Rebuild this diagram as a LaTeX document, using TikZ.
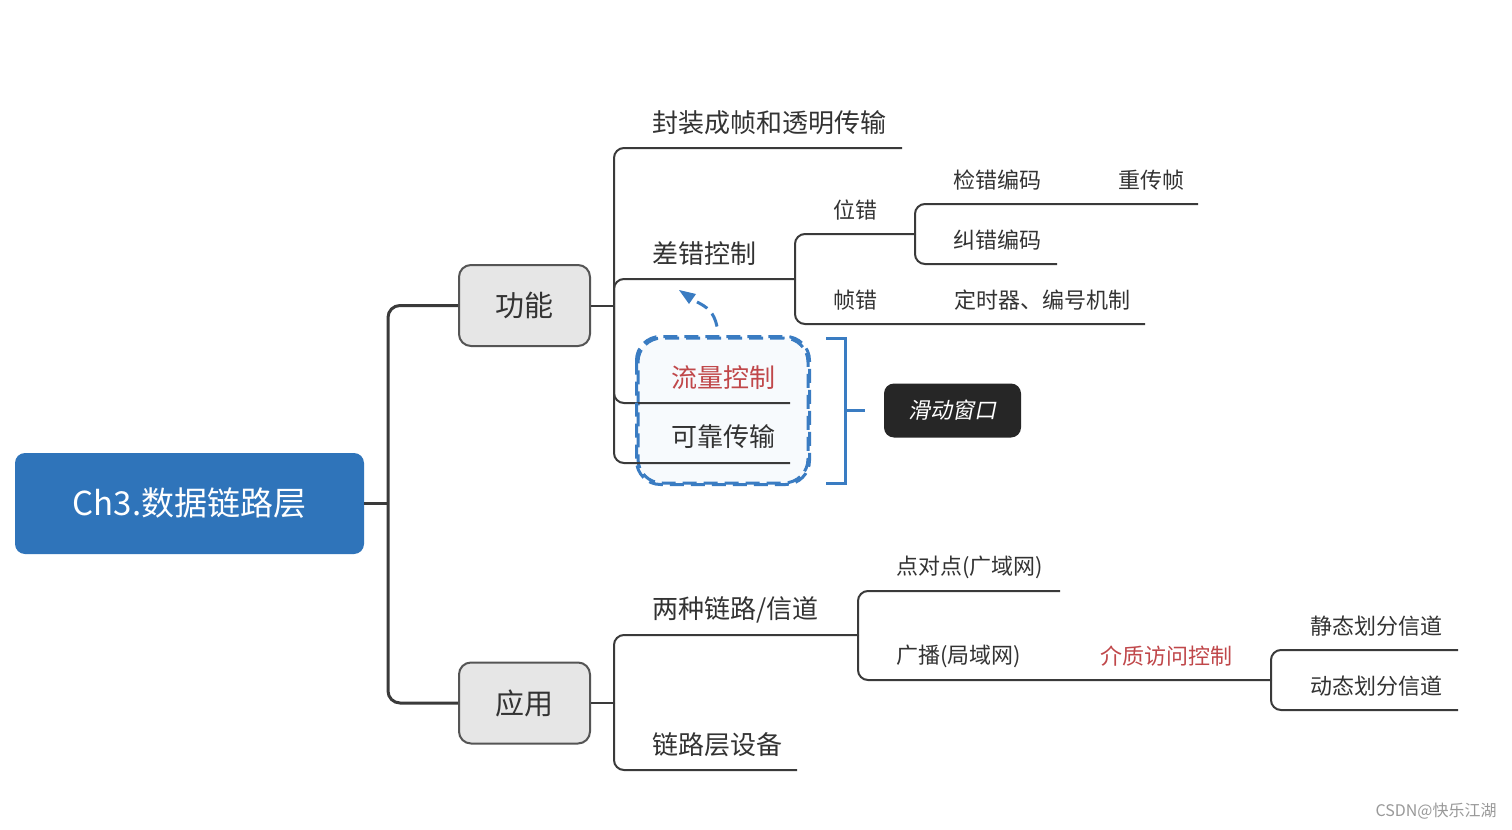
\documentclass[tikz,border=0pt]{standalone}
\usepackage{fontspec}
\setmainfont{Noto Sans CJK SC}
\newfontfamily\cjkit{Noto Sans CJK SC}[FakeSlant=0.2]
\usetikzlibrary{arrows.meta,calc}
\definecolor{rootblue}{HTML}{2F74BA}
\definecolor{boxgray}{HTML}{E6E6E6}
\definecolor{boxline}{HTML}{555555}
\definecolor{linecol}{HTML}{3A3A3A}
\definecolor{txt}{HTML}{333333}
\definecolor{redtxt}{HTML}{C0474A}
\definecolor{dashblue}{HTML}{3A7CC2}
\definecolor{darknode}{HTML}{262626}
\tikzset{
  rootbox/.style={draw=none,fill=rootblue,rounded corners=5pt,minimum width=174.5pt,minimum height=50.5pt,text=white,font=\fontsize{16.5pt}{20pt}\selectfont,inner sep=0pt},
  grpbox/.style={draw=boxline,line width=1pt,fill=boxgray,rounded corners=6pt,minimum width=65.5pt,minimum height=40.5pt,text=txt,font=\fontsize{14.5pt}{17pt}\selectfont,inner sep=0pt},
  mainline/.style={draw=linecol,line width=1.5pt,rounded corners=6pt},
  brline/.style={draw=linecol,line width=1pt,rounded corners=5pt},
  big/.style={text=txt,font=\fontsize{13pt}{15pt}\selectfont,inner sep=0pt},
  small/.style={text=txt,font=\fontsize{11pt}{13pt}\selectfont,inner sep=0pt},
  redbig/.style={big,text=redtxt},
  redsmall/.style={small,text=redtxt},
  bluedash/.style={draw=dashblue,line width=1.5pt,dash pattern=on 7pt off 3.5pt},
  dashbox/.style={bluedash,rounded corners=12pt,fill=dashblue!4,minimum width=85pt,minimum height=72.5pt},
  bracketline/.style={draw=dashblue,line width=1.5pt},
  darkbox/.style={fill=darknode,rounded corners=5pt,minimum width=68.5pt,minimum height=27pt,text=white,font=\fontsize{11pt}{13pt}\cjkit,inner sep=0pt},
}
\begin{document}
\begin{tikzpicture}[x=0.5pt,y=-0.5pt]
\useasboundingbox (0,0) rectangle (1512,830);
\fill[white] (0,0) rectangle (1512,830);

% dashed group box (fill first, lines pass over it)
\node[dashbox] (win) at (723,410.5) {};

% main nodes
\node[rootbox] (root) at (189.5,503.5) {Ch3.数据链路层};
\node[grpbox] (gn) at (524.5,305.5) {功能};
\node[grpbox] (yy) at (524.5,703) {应用};

% junction coordinates
\coordinate (rj) at (388,503.5);
\coordinate (gj) at (614,305.5);
\coordinate (yj) at (614,703);
\coordinate (ej) at (795,279);
\coordinate (bj) at (915,234);
\coordinate (tj) at (858,635);
\coordinate (mj) at (1271,680);
% line ends
\coordinate (e1) at (902,148);
\coordinate (e3) at (790,403);
\coordinate (e4) at (790,463);
\coordinate (e5) at (1145,324);
\coordinate (e6) at (1198,204);
\coordinate (e7) at (1057,264);
\coordinate (e8) at (797,770);
\coordinate (e9) at (1060,591);
\coordinate (e10) at (1458,650);
\coordinate (e11) at (1458,710);

% root connectors
\draw[mainline] (root.east) -- (rj);
\draw[mainline] (gn.west) -| (rj) |- (yy.west);

% 功能 branches
\draw[brline] (gn.east) -- (gj);
\draw[brline] (gj) |- (e1);
\draw[brline] (gj) |- (ej);
\draw[brline] (gj) |- (e3);
\draw[brline] (gj) |- (e4);
\draw[brline] (ej) |- (bj);
\draw[brline] (ej) |- (e5);
\draw[brline] (bj) |- (e6);
\draw[brline] (bj) |- (e7);

% 应用 branches
\draw[brline] (yy.east) -- (yj);
\draw[brline] (yj) |- (tj);
\draw[brline] (yj) |- (e8);
\draw[brline] (tj) |- (e9);
\draw[brline] (tj) |- (mj);
\draw[brline] (mj) |- (e10);
\draw[brline] (mj) |- (e11);

% dashed border again on top
\draw[bluedash,rounded corners=12pt] (win.north west) rectangle (win.south east);

% texts
\node[big,anchor=west] (t1) at (652,123) {封装成帧和透明传输};
\node[big,anchor=west] (t2) at (652,254) {差错控制};
\node[redbig] (t3) at (723,378) {流量控制};
\node[big] (t4) at (723,437) {可靠传输};
\node[small] (t5) at (855,210) {位错};
\node[small] (t6) at (855,300) {帧错};
\node[small] (t7) at (997,180) {检错编码};
\node[small] (t8) at (1151,180) {重传帧};
\node[small] (t9) at (997,240) {纠错编码};
\node[small] (t10) at (1042,300) {定时器、编号机制};
\node[big,anchor=west] (t11) at (652,610) {两种链路/信道};
\node[big,anchor=west] (t12) at (652,745) {链路层设备};
\node[small,anchor=west] (t13) at (896,567) {点对点(广域网)};
\node[small,anchor=west] (t14) at (896,656) {广播(局域网)};
\node[redsmall] (t15) at (1166,656) {介质访问控制};
\node[small] (t16) at (1376,626) {静态划分信道};
\node[small] (t17) at (1376,686) {动态划分信道};

% curved dashed arrow
\coordinate (amid) at (697,302);
\coordinate (atip) at (679,290);
\draw[bluedash] ([xshift=-3pt,yshift=5pt]win.north) .. controls (714,312) and (707,307) .. (amid);
\fill[dashblue] (atip) -- ++(17,4) -- ++(-7,10) -- cycle;

% bracket and sliding window
\coordinate (b1) at (826,338);
\coordinate (b2) at (826,483);
\coordinate (bm) at (845,410.5);
\coordinate (bt) at (865,410.5);
\draw[bracketline] (b1) -| (bm) |- (b2);
\draw[bracketline] (bm) -- (bt);
\node[darkbox] (sw) at (952.5,410.5) {滑动窗口};

% watermark
\node[anchor=east,text=gray!80,font=\fontsize{8pt}{9pt}\selectfont,inner sep=0pt] (wm) at (1497,811) {CSDN@快乐江湖};
\end{tikzpicture}
\end{document}
